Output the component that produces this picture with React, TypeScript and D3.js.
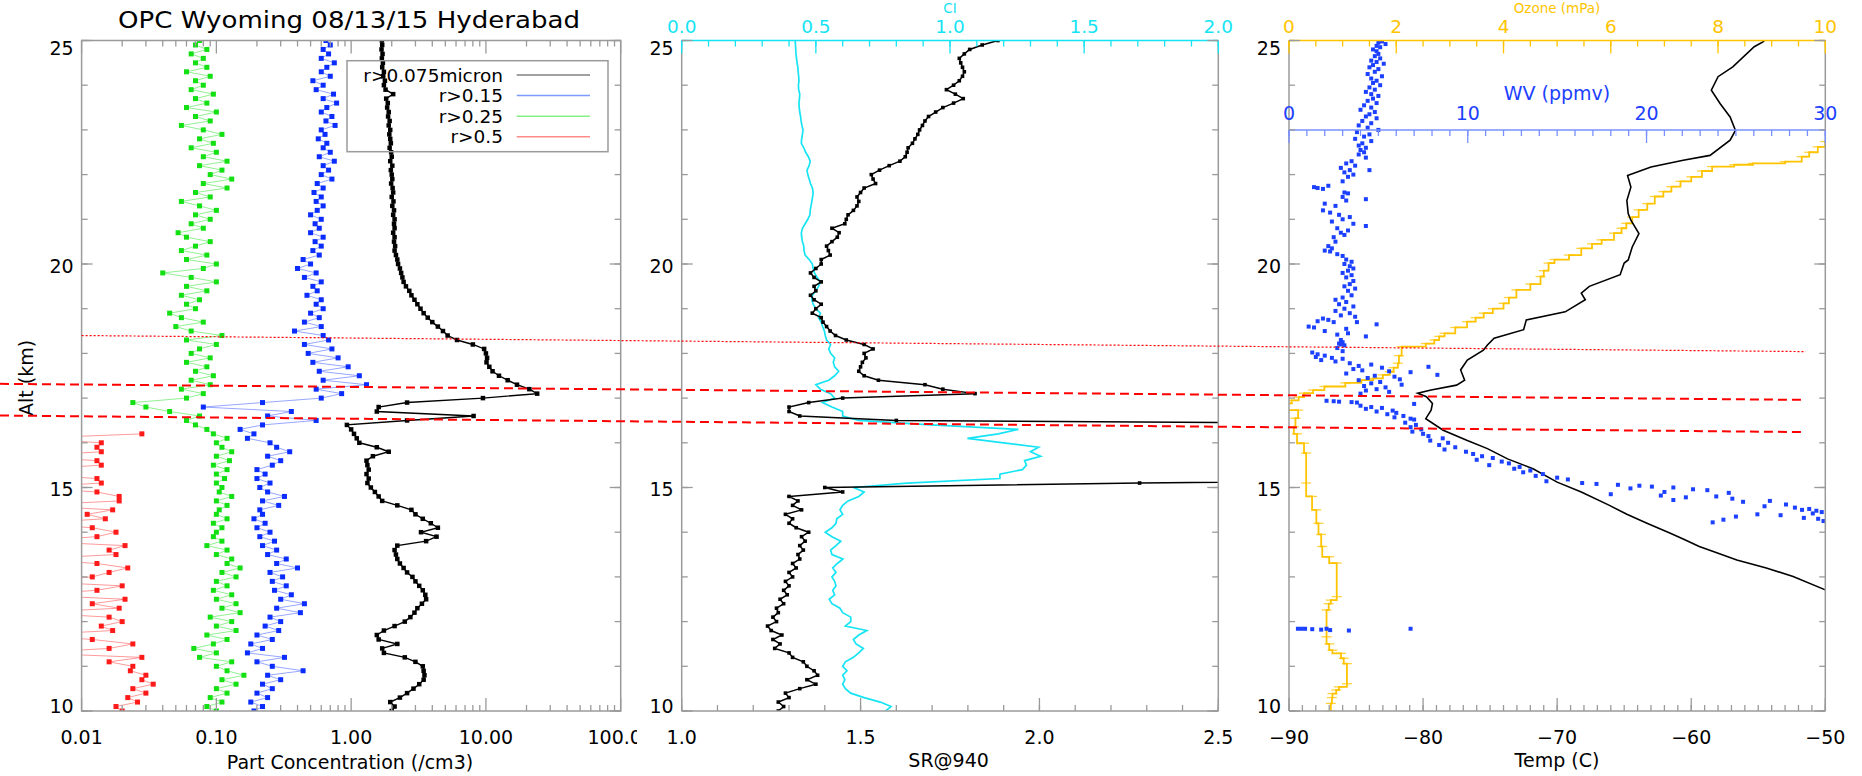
import * as d3 from "d3";

/**
 * OPC / backscatter / ozonesonde profile panels, Hyderabad 08/13/15.
 * Three side-by-side altitude profiles sharing one altitude scale.
 */

const FONT = "'DejaVu Sans', 'Liberation Sans', sans-serif";
const GRAY = "#9a9a9a";
const CYAN = "#16e4f4";
const GOLD = "#ffc400";
const WV_BLUE = "#1c40ff";

// altitude bins of the OPC and backscatter profiles (km)
const profileAlt = d3.range(151).map((i) => Math.round(100 + i) / 10);

// r>0.075 micron concentration (/cm3)
const conc075 = [
  2.0, 2.1, 1.95, 2.3, 2.6, 2.9, 3.2, 3.45, 3.5, 3.45,
  3.4, 3.0, 2.5, 1.75, 1.7, 2.2, 1.6, 1.55, 1.75, 2.1,
  2.5, 2.75, 2.95, 3.1, 3.35, 3.6, 3.55, 3.4, 3.2, 3.0,
  2.85, 2.6, 2.45, 2.3, 2.2, 2.15, 2.1, 2.2, 3.6, 4.3,
  3.3, 4.4, 3.9, 3.4, 3.0, 2.8, 2.2, 1.7, 1.6, 1.5,
  1.4, 1.32, 1.35, 1.3, 1.35, 1.32, 1.3, 1.45, 1.9, 1.55,
  1.15, 1.1, 1.05, 1.0, 0.93, 2.6, 8.1, 1.55, 1.6, 2.6,
  9.5, 24, 21, 17, 14.5, 12.5, 11.2, 10.6, 10.1, 10.2,
  10.0, 9.7, 8.0, 6.1, 5.2, 4.8, 4.4, 4.0, 3.7, 3.45,
  3.27, 3.1, 2.95, 2.8, 2.7, 2.55, 2.45, 2.4, 2.35, 2.3,
  2.23, 2.2, 2.15, 2.1, 2.12, 2.08, 2.1, 2.05, 2.1, 2.08,
  2.1, 2.05, 2.08, 2.02, 2.06, 2.0, 2.05, 2.03, 1.98, 2.02,
  2.0, 1.97, 2.02, 1.95, 2.0, 1.98, 1.93, 1.97, 1.95, 1.92,
  1.95, 1.9, 1.93, 1.88, 1.9, 1.85, 1.87, 1.82, 2.05, 1.8,
  1.75, 1.78, 1.73, 1.75, 1.7, 1.72, 1.69, 1.71, 1.68, 1.7,
  1.69,
];

// r>0.15
const conc015 = [
  0.19, 0.22, 0.18, 0.24, 0.2, 0.26, 0.22, 0.3, 0.24, 0.44,
  0.26, 0.2, 0.32, 0.17, 0.22, 0.18, 0.26, 0.2, 0.29, 0.23,
  0.3, 0.25, 0.42, 0.28, 0.45, 0.3, 0.36, 0.27, 0.33, 0.26,
  0.31, 0.25, 0.4, 0.28, 0.33, 0.24, 0.28, 0.22, 0.27, 0.21,
  0.25, 0.2, 0.23, 0.19, 0.22, 0.21, 0.29, 0.22, 0.32, 0.24,
  0.21, 0.25, 0.2, 0.23, 0.2, 0.26, 0.3, 0.24, 0.35, 0.28,
  0.25, 0.17, 0.19, 0.15, 0.22, 0.55, 0.24, 0.36, 0.08, 0.22,
  0.6, 0.85, 0.55, 1.3, 0.62, 1.15, 0.58, 0.95, 0.52, 0.8,
  0.48, 0.72, 0.45, 0.68, 0.62, 0.38, 0.6, 0.45, 0.58, 0.5,
  0.62, 0.55, 0.6, 0.47, 0.56, 0.52, 0.6, 0.45, 0.55, 0.4,
  0.5, 0.44, 0.58, 0.52, 0.6, 0.54, 0.62, 0.5, 0.58, 0.54,
  0.6, 0.5, 0.56, 0.62, 0.55, 0.6, 0.53, 0.62, 0.56, 0.72,
  0.6, 0.68, 0.62, 0.75, 0.58, 0.7, 0.62, 0.66, 0.57, 0.64,
  0.6, 0.76, 0.65, 0.72, 0.6, 0.66, 0.78, 0.62, 0.74, 0.55,
  0.62, 0.52, 0.7, 0.6, 0.66, 0.75, 0.6, 0.68, 0.62, 0.7,
  0.65,
];

// r>0.25
const conc025 = [
  0.1, 0.085, 0.11, 0.09, 0.12, 0.1, 0.14, 0.11, 0.16, 0.12,
  0.1, 0.13, 0.075, 0.1, 0.068, 0.095, 0.12, 0.085, 0.14, 0.1,
  0.13, 0.09, 0.15, 0.11, 0.14, 0.1, 0.13, 0.095, 0.12, 0.1,
  0.14, 0.11, 0.15, 0.12, 0.13, 0.1, 0.12, 0.085, 0.11, 0.095,
  0.1, 0.11, 0.095, 0.12, 0.1, 0.105, 0.12, 0.1, 0.13, 0.105,
  0.11, 0.1, 0.115, 0.1, 0.12, 0.095, 0.125, 0.1, 0.13, 0.11,
  0.1, 0.12, 0.095, 0.085, 0.07, 0.06, 0.075, 0.045, 0.03, 0.024,
  0.06, 0.08, 0.055, 0.09, 0.065, 0.095, 0.07, 0.085, 0.06, 0.09,
  0.065, 0.075, 0.1, 0.06, 0.11, 0.065, 0.05, 0.08, 0.055, 0.045,
  0.07, 0.06, 0.075, 0.055, 0.085, 0.06, 0.1, 0.065, 0.04, 0.08,
  0.1, 0.06, 0.085, 0.055, 0.07, 0.09, 0.06, 0.052, 0.08, 0.065,
  0.09, 0.07, 0.1, 0.075, 0.055, 0.09, 0.07, 0.12, 0.08, 0.13,
  0.09, 0.11, 0.075, 0.12, 0.08, 0.1, 0.065, 0.095, 0.075, 0.11,
  0.08, 0.055, 0.09, 0.07, 0.1, 0.06, 0.085, 0.07, 0.095, 0.065,
  0.08, 0.07, 0.09, 0.06, 0.085, 0.07, 0.08, 0.065, 0.085, 0.07,
  0.075,
];

// r>0.5, only measured up to 16.2 km (0.004 = zero counts, drawn at the axis)
const conc05 = [
  0.02, 0.018, 0.026, 0.022, 0.03, 0.024, 0.034, 0.028, 0.03, 0.023,
  0.024, 0.016, 0.028, 0.004, 0.016, 0.024, 0.012, 0.004, 0.017, 0.014,
  0.02, 0.016, 0.004, 0.019, 0.012, 0.021, 0.004, 0.013, 0.02, 0.004,
  0.012, 0.016, 0.022, 0.013, 0.004, 0.018, 0.016, 0.021, 0.004, 0.013,
  0.018, 0.012, 0.004, 0.015, 0.011, 0.017, 0.004, 0.019, 0.019, 0.013,
  0.004, 0.014, 0.013, 0.004, 0.004, 0.014, 0.013, 0.004, 0.014, 0.013,
  0.014, 0.004, 0.028,
];

// backscatter ratio at 940 nm (cloud between 15.1 and 16.5 km is off scale)
const sr940 = [
  1.27, 1.285, 1.27, 1.3, 1.29, 1.33, 1.375, 1.35, 1.38, 1.37,
  1.35, 1.34, 1.31, 1.3, 1.26, 1.275, 1.255, 1.28, 1.25, 1.24,
  1.265, 1.255, 1.27, 1.265, 1.285, 1.275, 1.295, 1.285, 1.3, 1.29,
  1.31, 1.3, 1.32, 1.31, 1.33, 1.325, 1.34, 1.33, 1.345, 1.335,
  1.355, 1.32, 1.3, 1.31, 1.29, 1.335, 1.31, 1.325, 1.3, 1.45,
  1.4, 2.28, 3.4, 4.1, 5.0, 6.2, 5.5, 4.8, 6.0, 5.2,
  4.4, 3.9, 4.6, 5.3, 3.6, 1.6, 1.33, 1.3, 1.3, 1.355,
  1.45, 1.82, 1.73, 1.68, 1.55, 1.51, 1.495, 1.5, 1.505, 1.515,
  1.51, 1.535, 1.51, 1.46, 1.43, 1.415, 1.405, 1.395, 1.39, 1.365,
  1.375, 1.39, 1.37, 1.36, 1.375, 1.37, 1.39, 1.37, 1.36, 1.375,
  1.39, 1.39, 1.415, 1.41, 1.405, 1.42, 1.435, 1.44, 1.42, 1.456,
  1.46, 1.465, 1.48, 1.49, 1.495, 1.49, 1.5, 1.51, 1.542, 1.535,
  1.53, 1.553, 1.58, 1.61, 1.625, 1.63, 1.633, 1.645, 1.652, 1.66,
  1.665, 1.673, 1.68, 1.69, 1.71, 1.73, 1.76, 1.787, 1.765, 1.74,
  1.76, 1.776, 1.785, 1.79, 1.785, 1.78, 1.776, 1.79, 1.805, 1.84,
  1.884,
];

// colour index
const ci = [
  0.76, 0.78, 0.74, 0.68, 0.63, 0.61, 0.6, 0.608, 0.6, 0.616,
  0.6, 0.61, 0.64, 0.66, 0.677, 0.65, 0.64, 0.66, 0.69, 0.61,
  0.63, 0.63, 0.6, 0.59, 0.56, 0.55, 0.57, 0.563, 0.575, 0.57,
  0.56, 0.575, 0.563, 0.58, 0.601, 0.56, 0.555, 0.575, 0.593, 0.56,
  0.535, 0.56, 0.575, 0.578, 0.6, 0.59, 0.6, 0.62, 0.66, 0.68,
  0.64, 0.84, 1.186, 1.186, 1.27, 1.285, 1.278, 1.338, 1.3, 1.33,
  1.2, 1.065, 1.18, 1.255, 0.928, 0.66, 0.6, 0.6, 0.56, 0.525,
  0.57, 0.555, 0.517, 0.5, 0.548, 0.57, 0.585, 0.57, 0.565, 0.57,
  0.555, 0.548, 0.555, 0.54, 0.535, 0.532, 0.525, 0.52, 0.51, 0.517,
  0.5, 0.49, 0.485, 0.487, 0.5, 0.51, 0.517, 0.505, 0.495, 0.49,
  0.487, 0.475, 0.46, 0.456, 0.455, 0.45, 0.447, 0.446, 0.45, 0.46,
  0.47, 0.478, 0.479, 0.482, 0.485, 0.488, 0.49, 0.487, 0.48, 0.475,
  0.47, 0.467, 0.475, 0.479, 0.472, 0.462, 0.455, 0.446, 0.447, 0.45,
  0.452, 0.448, 0.445, 0.443, 0.44, 0.438, 0.437, 0.439, 0.44, 0.436,
  0.435, 0.437, 0.436, 0.434, 0.433, 0.43, 0.428, 0.426, 0.425, 0.424,
  0.423,
];

// [alt km, temperature C]
const temp: [number, number][] = [
  [12.5, -48.4], [12.71, -50.0], [13.01, -52.4], [13.2, -54.4], [13.38, -56.6],
  [13.55, -58.2], [13.68, -59.4], [13.85, -60.6], [13.98, -61.6], [14.2, -63.3],
  [14.4, -64.8], [14.6, -66.1], [14.9, -68.2], [15.12, -70.0], [15.42, -71.8],
  [15.64, -73.7], [15.87, -75.2], [16.05, -76.7], [16.28, -78.5], [16.54, -79.8],
  [16.73, -79.4], [16.88, -79.3], [17.03, -79.75], [17.11, -80.4], [17.18, -79.4],
  [17.29, -77.5], [17.4, -76.9], [17.63, -77.2], [17.85, -76.7], [18.07, -75.5],
  [18.19, -75.2], [18.34, -74.7], [18.53, -72.5], [18.75, -72.3], [18.93, -69.4],
  [19.2, -67.9], [19.35, -68.2], [19.5, -67.6], [19.76, -65.3], [20.02, -65.0],
  [20.09, -64.7], [20.38, -64.4], [20.68, -63.9], [20.98, -64.5], [21.13, -64.7],
  [21.42, -64.8], [21.72, -64.5], [21.98, -64.75], [22.17, -63.0], [22.32, -60.6],
  [22.43, -58.6], [22.77, -57.1], [22.99, -56.7], [23.29, -57.1], [23.59, -57.85],
  [23.89, -58.5], [24.19, -58.0], [24.41, -56.9], [24.86, -55.3], [24.97, -54.65],
  [25.1, -54.2],
];

// [alt km, ozone partial pressure mPa]
const ozone: [number, number][] = [
  [10.0, 0.78], [10.17, 0.78], [10.3, 0.8], [10.39, 0.81], [10.47, 0.88],
  [10.54, 0.93], [10.61, 1.08], [11.06, 1.08], [11.18, 1.02], [11.29, 0.97],
  [11.36, 0.81], [11.5, 0.75], [11.66, 0.7], [12.26, 0.7], [12.4, 0.74],
  [12.48, 0.78], [12.56, 0.89], [13.31, 0.89], [13.45, 0.75], [13.68, 0.62],
  [13.95, 0.6], [14.2, 0.55], [14.5, 0.51], [14.8, 0.43], [15.1, 0.32],
  [15.77, 0.32], [15.99, 0.28], [16.2, 0.15], [16.36, 0.09], [16.55, 0.12],
  [16.73, 0.17], [16.88, -0.02], [16.95, 0.05], [17.02, 0.18], [17.11, 0.28],
  [17.18, 0.45], [17.26, 0.66], [17.34, 1.05], [17.4, 1.35], [17.44, 1.57],
  [17.52, 1.75], [17.59, 1.88], [17.68, 1.95], [17.78, 2.03], [17.95, 2.05],
  [18.15, 2.1], [18.22, 2.55], [18.3, 2.71], [18.38, 2.8], [18.45, 2.9],
  [18.58, 3.1], [18.71, 3.32], [18.8, 3.48], [18.9, 3.63], [19.0, 3.8],
  [19.12, 4.0], [19.25, 4.1], [19.42, 4.24], [19.55, 4.5], [19.72, 4.69],
  [19.85, 4.75], [20.02, 4.84], [20.1, 4.95], [20.2, 5.22], [20.35, 5.45],
  [20.45, 5.65], [20.54, 5.83], [20.69, 6.06], [20.8, 6.2], [20.91, 6.29],
  [21.05, 6.4], [21.21, 6.52], [21.35, 6.68], [21.51, 6.82], [21.62, 6.98],
  [21.73, 7.13], [21.85, 7.3], [21.95, 7.5], [22.08, 7.7], [22.18, 7.89],
  [22.22, 8.3], [22.25, 8.65], [22.29, 9.25], [22.4, 9.56], [22.5, 9.7],
  [22.62, 9.86], [22.74, 10.0], [22.85, 10.4],
];

// [alt km, water vapour ppmv]
const wv: [number, number][] = [
  [24.98, 5.2], [24.95, 5.0], [24.92, 5.4], [24.88, 4.9], [24.85, 5.1], [24.8, 4.7],
  [24.76, 4.9], [24.7, 5.0], [24.65, 4.8], [24.6, 5.1], [24.55, 4.6], [24.52, 4.9],
  [24.48, 5.3], [24.45, 4.7], [24.4, 4.5], [24.36, 5.0], [24.3, 4.8], [24.25, 4.4],
  [24.2, 5.2], [24.15, 4.6], [24.1, 4.9], [24.05, 4.7], [24.0, 5.1], [23.95, 4.5],
  [23.9, 4.8], [23.85, 4.3], [23.8, 4.6], [23.76, 5.0], [23.7, 4.7], [23.65, 4.4],
  [23.6, 4.9], [23.55, 4.2], [23.5, 4.6], [23.45, 4.0], [23.4, 4.8], [23.35, 4.5],
  [23.3, 4.3], [23.26, 4.9], [23.2, 4.1], [23.15, 4.6], [23.1, 3.9], [23.05, 4.4],
  [23.0, 5.0], [22.95, 3.8], [22.9, 4.5], [22.85, 4.2], [22.8, 3.7], [22.75, 4.6],
  [22.7, 4.1], [22.65, 3.9], [22.6, 4.3], [22.55, 4.0], [22.5, 4.2], [22.45, 3.9],
  [22.38, 4.3], [22.3, 3.5], [22.25, 3.2], [22.2, 3.7], [22.15, 2.9], [22.1, 3.4],
  [22.1, 4.5], [22.05, 3.1], [22.0, 3.6], [21.95, 3.3], [21.85, 3.0], [21.75, 2.2],
  [21.72, 1.4], [21.7, 1.6], [21.68, 1.9], [21.6, 3.1], [21.58, 3.3], [21.5, 3.0],
  [21.45, 4.3], [21.42, 3.2], [21.35, 2.0], [21.3, 2.6], [21.2, 1.9], [21.15, 2.3],
  [21.1, 2.8], [21.05, 3.4], [21.0, 3.0], [20.95, 2.4], [20.9, 3.6], [20.85, 4.3],
  [20.8, 2.7], [20.75, 3.3], [20.7, 2.9], [20.65, 3.1], [20.6, 2.5], [20.5, 2.6],
  [20.4, 2.2], [20.35, 2.4], [20.3, 2.0], [20.28, 2.3], [20.22, 2.7], [20.18, 3.0],
  [20.1, 3.2], [20.05, 3.5], [20.0, 3.1], [19.95, 3.4], [19.9, 3.6], [19.85, 3.3],
  [19.8, 3.0], [19.75, 3.5], [19.7, 3.2], [19.62, 3.6], [19.55, 3.4], [19.5, 3.1],
  [19.45, 3.7], [19.4, 3.3], [19.3, 3.5], [19.25, 3.0], [19.2, 2.6], [19.15, 3.2],
  [19.1, 2.8], [19.05, 3.6], [19.0, 3.1], [18.95, 2.6], [18.9, 3.4], [18.85, 2.9],
  [18.82, 3.7], [18.78, 1.9], [18.75, 2.2], [18.72, 1.6], [18.7, 2.5], [18.7, 3.8],
  [18.65, 4.9], [18.6, 1.1], [18.58, 1.4], [18.55, 3.2], [18.5, 2.0], [18.45, 3.3],
  [18.42, 2.7], [18.38, 4.3], [18.3, 2.9], [18.25, 3.0], [18.22, 2.8], [18.2, 2.9],
  [18.18, 3.1], [18.12, 2.7], [18.05, 3.0], [18.02, 1.3], [17.98, 1.6], [17.95, 2.0],
  [17.92, 1.5], [17.9, 2.4], [17.88, 3.0], [17.85, 1.8], [17.82, 2.6], [17.78, 3.4],
  [17.75, 4.6], [17.72, 3.9], [17.7, 7.8], [17.68, 5.2], [17.65, 3.6], [17.62, 4.1],
  [17.6, 5.6], [17.58, 6.8], [17.55, 3.2], [17.52, 8.3], [17.5, 4.8], [17.48, 5.9],
  [17.45, 4.4], [17.42, 6.2], [17.4, 3.9], [17.36, 5.1], [17.33, 4.6], [17.3, 6.3],
  [17.27, 4.2], [17.24, 5.4], [17.2, 4.9], [17.17, 4.3], [17.14, 5.6], [17.1, 4.0],
  [16.94, 2.1], [16.93, 2.5], [16.92, 2.8], [16.91, 3.5], [16.9, 3.8], [16.87, 7.0],
  [16.83, 4.0], [16.8, 4.6], [16.78, 5.2], [16.76, 4.3], [16.72, 5.8], [16.7, 4.9],
  [16.67, 6.0], [16.64, 5.5], [16.6, 6.4], [16.57, 5.9], [16.54, 6.8], [16.52, 7.0],
  [16.45, 6.5], [16.4, 7.1], [16.35, 6.8], [16.3, 7.4], [16.25, 6.9], [16.2, 7.5],
  [16.15, 7.8], [16.1, 8.6], [16.05, 7.9], [16.0, 8.9], [15.95, 8.4], [15.9, 9.3],
  [15.85, 8.7], [15.8, 9.9], [15.75, 10.3], [15.7, 10.8], [15.66, 11.4], [15.62, 10.5],
  [15.58, 11.9], [15.54, 12.3], [15.5, 11.2], [15.46, 12.9], [15.42, 12.6], [15.38, 13.5],
  [15.34, 13.1], [15.3, 14.2], [15.26, 13.8], [15.22, 15.0], [15.18, 15.6], [15.14, 14.4],
  [15.1, 16.4], [15.08, 17.2], [15.06, 18.4], [15.04, 19.6], [15.02, 20.3], [15.0, 21.5],
  [14.98, 19.1], [14.96, 22.6], [14.94, 23.4], [14.9, 21.0], [14.88, 24.6], [14.85, 18.0],
  [14.82, 20.8], [14.8, 23.9], [14.78, 22.2], [14.75, 24.8], [14.72, 21.5], [14.7, 26.9],
  [14.68, 25.4], [14.62, 27.8], [14.58, 26.6], [14.55, 28.3], [14.52, 29.1], [14.5, 28.7],
  [14.48, 29.5], [14.45, 29.8], [14.42, 29.3], [14.4, 26.2], [14.38, 27.5], [14.35, 25.0],
  [14.32, 28.8], [14.3, 29.6], [14.28, 24.3], [14.25, 29.9], [14.22, 23.7],
  [11.84, 0.5], [11.84, 0.7], [11.84, 0.9], [11.83, 1.3], [11.82, 1.8], [11.84, 2.1],
  [11.81, 2.3], [11.8, 3.35], [11.84, 6.8],
];

// layer marker lines: altitude at left end and at right end
const refLineLeft = [18.4, 17.32, 16.61];
const refLineRight = [18.04, 16.96, 16.24];

const altTicks = [10, 15, 20, 25];
const concTicks = [0.01, 0.1, 1, 10, 100];
const concLabels = ["0.01", "0.10", "1.00", "10.00", "100.00"];
const srTicks = [1.0, 1.5, 2.0, 2.5];
const srLabels = ["1.0", "1.5", "2.0", "2.5"];
const ciTicks = [0, 0.5, 1, 1.5, 2];
const ciLabels = ["0.0", "0.5", "1.0", "1.5", "2.0"];
const tempTicks = [-90, -80, -70, -60, -50];
const tempLabels = ["\u221290", "\u221280", "\u221270", "\u221260", "\u221250"];
const o3Ticks = [0, 2, 4, 6, 8, 10];
const wvTicks = [0, 10, 20, 30];

const legendNames = ["r>0.075micron", "r>0.15", "r>0.25", "r>0.5"];
const legendColors = ["#808080", "#7d9bff", "#86f086", "#ff8a8a"];

// layout
const W = 1862;
const H = 776;
const Y0 = 40.5;
const Y1 = 711;
const P1 = { x0: 81.6, x1: 620.7 };
const P2 = { x0: 681.7, x1: 1218.3 };
const P3 = { x0: 1289, x1: 1825.3 };
const WV_AXIS_Y = 130;
const TOP_LABEL_Y = 33;
const TOP_TITLE_Y = 12.5;

const y = d3.scaleLinear().domain([10, 25]).range([Y1, Y0]);
const xConc = d3.scaleLog().domain([0.01, 100]).range([P1.x0, P1.x1]);
const xSR = d3.scaleLinear().domain([1, 2.5]).range([P2.x0, P2.x1]);
const xCI = d3.scaleLinear().domain([0, 2]).range([P2.x0, P2.x1]);
const xT = d3.scaleLinear().domain([-90, -50]).range([P3.x0, P3.x1]);
const xO3 = d3.scaleLinear().domain([0, 10]).range([P3.x0, P3.x1]);
const xWV = d3.scaleLinear().domain([0, 30]).range([P3.x0, P3.x1]);

const concMinor = [0.01, 0.1, 1, 10].flatMap((d) => d3.range(2, 10).map((k) => d * k));
const altMinor = d3.range(10, 25.5, 1);

type Scale = (v: number) => number;

const xTicks = (scale: Scale, vals: number[], yy: number, len: number, color: string, key: string) =>
  vals.map((v, i) => (
    <line key={key + i} x1={scale(v)} x2={scale(v)} y1={yy} y2={yy + len} stroke={color} strokeWidth={1.3} />
  ));

const yTicks = (xx: number, len: number, key: string) => [
  ...altMinor.map((v, i) => (
    <line key={key + "m" + i} x1={xx} x2={xx + len * 0.55} y1={y(v)} y2={y(v)} stroke={GRAY} strokeWidth={1.3} />
  )),
  ...altTicks.map((v, i) => (
    <line key={key + "M" + i} x1={xx} x2={xx + len} y1={y(v)} y2={y(v)} stroke={GRAY} strokeWidth={1.3} />
  )),
];

const yLabels = (xx: number, key: string) =>
  altTicks.map((v, i) => (
    <text key={key + i} x={xx} y={y(v) + (v === 25 ? 14.5 : v === 10 ? 2 : 8.5)} textAnchor="end" fontSize={19} fill="#000">
      {v}
    </text>
  ));

const profileLine = (xs: Scale, vals: number[]) =>
  d3.line<number>()
    .x((d) => xs(d))
    .y((_, i) => y(profileAlt[i]))(vals) || "";

const squares = (xs: Scale, vals: number[], size: number, color: string, key: string) =>
  vals.map((v, i) => (
    <rect key={key + i} x={xs(v) - size / 2} y={y(profileAlt[i]) - size / 2} width={size} height={size} fill={color} />
  ));

const App = () => {
  const tempPath = d3.line<[number, number]>()
    .x((d) => xT(d[1]))
    .y((d) => y(d[0]))(temp) || "";

  const ozonePath = d3.line<[number, number]>()
    .curve(d3.curveStepAfter)
    .x((d) => xO3(d[1]))
    .y((d) => y(d[0]))(ozone) || "";

  const refX0 = [P1.x0, 0, 0];
  const refX1 = 1805.7;

  return (
    <svg
      width={W}
      height={H}
      style={{ position: "absolute", left: 0, top: 0, background: "#fff" }}
      fontFamily={FONT}
    >
      <defs>
        <clipPath id="clip1"><rect x={P1.x0} y={Y0} width={P1.x1 - P1.x0} height={Y1 - Y0} /></clipPath>
        <clipPath id="clip2"><rect x={P2.x0} y={Y0} width={P2.x1 - P2.x0} height={Y1 - Y0} /></clipPath>
        <clipPath id="clip3"><rect x={P3.x0} y={Y0} width={P3.x1 - P3.x0} height={Y1 - Y0} /></clipPath>
        <clipPath id="clipLab1"><rect x={0} y={0} width={637} height={H} /></clipPath>
      </defs>
      <rect width={W} height={H} fill="#fff" />

      {/* ---------- panel 1 : OPC concentrations ---------- */}
      <text x={349} y={28} textAnchor="middle" fontSize={23} textLength={462} lengthAdjust="spacingAndGlyphs">
        OPC Wyoming 08/13/15 Hyderabad
      </text>
      <g clipPath="url(#clip1)">
        <path d={profileLine(xConc, conc05)} fill="none" stroke="#ff3030" strokeWidth={0.9} opacity={0.55} />
        {conc05.map((v, i) => (
          <rect key={"r" + i} x={xConc(v) - 2.5} y={y(profileAlt[i]) - 2.5} width={5} height={5} fill="#ff1a1a" />
        ))}
        <path d={profileLine(xConc, conc025)} fill="none" stroke="#20e020" strokeWidth={0.9} opacity={0.55} />
        {squares(xConc, conc025, 5, "#12e012", "g")}
        <path d={profileLine(xConc, conc015)} fill="none" stroke="#2a4cff" strokeWidth={0.9} opacity={0.55} />
        {squares(xConc, conc015, 5, "#0a2cff", "b")}
        <path d={profileLine(xConc, conc075)} fill="none" stroke="#000" strokeWidth={1.4} />
        {squares(xConc, conc075, 4.5, "#000", "k")}
      </g>
      <rect x={P1.x0} y={Y0} width={P1.x1 - P1.x0} height={Y1 - Y0} fill="none" stroke={GRAY} strokeWidth={1.5} />
      {xTicks(xConc, concMinor, Y1, -6, GRAY, "c1")}
      {xTicks(xConc, concTicks, Y1, -13, GRAY, "c2")}
      {xTicks(xConc, concMinor, Y0, 6, GRAY, "c3")}
      {xTicks(xConc, concTicks, Y0, 13, GRAY, "c4")}
      {yTicks(P1.x0, 11, "y1l")}
      {yTicks(P1.x1, -11, "y1r")}
      {yLabels(P1.x0 - 8, "yl1")}
      <g clipPath="url(#clipLab1)">
        {concTicks.map((v, i) => (
          <text key={"cl" + i} x={xConc(v)} y={743.5} textAnchor="middle" fontSize={19}>{concLabels[i]}</text>
        ))}
      </g>
      <text x={350} y={769} textAnchor="middle" fontSize={19}>Part Concentration (/cm3)</text>
      <text transform="translate(33,378) rotate(-90)" textAnchor="middle" fontSize={19}>Alt (km)</text>

      {/* legend */}
      <rect x={347} y={60.7} width={261} height={91} fill="none" stroke={GRAY} strokeWidth={1.5} />
      {legendNames.map((name, i) => {
        const ly = 75 + i * 20.6;
        return (
          <g key={"lg" + i}>
            <text x={503} y={ly + 6.5} textAnchor="end" fontSize={18.5}>{name}</text>
            <line x1={516.7} x2={590} y1={ly} y2={ly} stroke={legendColors[i]} strokeWidth={1.5} />
          </g>
        );
      })}

      {/* ---------- panel 2 : backscatter ratio & colour index ---------- */}
      <g clipPath="url(#clip2)">
        <path d={profileLine(xCI, ci)} fill="none" stroke={CYAN} strokeWidth={1.7} />
        <path d={profileLine(xSR, sr940)} fill="none" stroke="#000" strokeWidth={1.5} />
        {squares(xSR, sr940, 3.6, "#000", "s")}
      </g>
      <line x1={P2.x0} x2={P2.x0} y1={Y0} y2={Y1} stroke={GRAY} strokeWidth={1.5} />
      <line x1={P2.x1} x2={P2.x1} y1={Y0} y2={Y1} stroke={GRAY} strokeWidth={1.5} />
      <line x1={P2.x0} x2={P2.x1} y1={Y1} y2={Y1} stroke={GRAY} strokeWidth={1.5} />
      <line x1={P2.x0} x2={P2.x1} y1={Y0} y2={Y0} stroke={CYAN} strokeWidth={1.5} />
      {xTicks(xSR, d3.range(1, 2.501, 0.1), Y1, -6, GRAY, "s1")}
      {xTicks(xSR, srTicks, Y1, -13, GRAY, "s2")}
      {xTicks(xCI, d3.range(0, 2.001, 0.1), Y0, 6, CYAN, "i1")}
      {xTicks(xCI, ciTicks, Y0, 13, CYAN, "i2")}
      {yTicks(P2.x0, 11, "y2l")}
      {yTicks(P2.x1, -11, "y2r")}
      {yLabels(P2.x0 - 8, "yl2")}
      {srTicks.map((v, i) => (
        <text key={"sl" + i} x={xSR(v)} y={743.5} textAnchor="middle" fontSize={19}>{srLabels[i]}</text>
      ))}
      {ciTicks.map((v, i) => (
        <text key={"il" + i} x={xCI(v)} y={TOP_LABEL_Y} textAnchor="middle" fontSize={18.5} fill={CYAN}>{ciLabels[i]}</text>
      ))}
      <text x={948.6} y={767} textAnchor="middle" fontSize={19}>SR@940</text>
      <text x={950} y={TOP_TITLE_Y} textAnchor="middle" fontSize={13.5} fill={CYAN}>CI</text>

      {/* ---------- panel 3 : temperature, ozone, water vapour ---------- */}
      <g clipPath="url(#clip3)">
        <path d={ozonePath} fill="none" stroke={GOLD} strokeWidth={1.8} />
        {ozone.map((d, i) => (
          <line key={"oe" + i} x1={xO3(d[1]) - 5} x2={xO3(d[1]) + 5} y1={y(d[0])} y2={y(d[0])} stroke={GOLD} strokeWidth={1.3} opacity={0.75} />
        ))}
        <path d={tempPath} fill="none" stroke="#000" strokeWidth={1.6} />
        {wv.map((d, i) => (
          <rect key={"wv" + i} x={xWV(d[1]) - 2} y={y(d[0]) - 2} width={4} height={4} fill={WV_BLUE} />
        ))}
      </g>
      <line x1={P3.x0} x2={P3.x0} y1={Y0} y2={Y1} stroke={GRAY} strokeWidth={1.5} />
      <line x1={P3.x1} x2={P3.x1} y1={Y0} y2={Y1} stroke={GRAY} strokeWidth={1.5} />
      <line x1={P3.x0} x2={P3.x1} y1={Y1} y2={Y1} stroke={GRAY} strokeWidth={1.5} />
      <line x1={P3.x0} x2={P3.x1} y1={Y0} y2={Y0} stroke={GOLD} strokeWidth={1.5} />
      {xTicks(xT, d3.range(-90, -49.9, 1), Y1, -6, GRAY, "t1")}
      {xTicks(xT, tempTicks, Y1, -13, GRAY, "t2")}
      {xTicks(xO3, d3.range(0, 10.01, 0.5), Y0, 6, GOLD, "o1")}
      {xTicks(xO3, o3Ticks, Y0, 13, GOLD, "o2")}
      <line x1={P3.x0} x2={P3.x1} y1={WV_AXIS_Y} y2={WV_AXIS_Y} stroke="#7890ff" strokeWidth={1.5} />
      {xTicks(xWV, d3.range(0, 30.01, 1), WV_AXIS_Y, 6, "#7890ff", "w1")}
      {xTicks(xWV, wvTicks, WV_AXIS_Y, 13, "#7890ff", "w2")}
      {yTicks(P3.x0, 11, "y3l")}
      {yTicks(P3.x1, -11, "y3r")}
      {yLabels(P3.x0 - 8, "yl3")}
      {tempTicks.map((v, i) => (
        <text key={"tl" + i} x={xT(v)} y={743.5} textAnchor="middle" fontSize={19}>{tempLabels[i]}</text>
      ))}
      {o3Ticks.map((v, i) => (
        <text key={"ol" + i} x={xO3(v)} y={TOP_LABEL_Y} textAnchor="middle" fontSize={18.5} fill={GOLD}>{v}</text>
      ))}
      {wvTicks.map((v, i) => (
        <text key={"wl" + i} x={xWV(v)} y={120} textAnchor="middle" fontSize={19} fill={WV_BLUE}>{v}</text>
      ))}
      <text x={1557} y={767} textAnchor="middle" fontSize={19}>Temp (C)</text>
      <text x={1557} y={TOP_TITLE_Y} textAnchor="middle" fontSize={13.5} fill={GOLD}>Ozone (mPa)</text>
      <text x={1557} y={100} textAnchor="middle" fontSize={19} fill={WV_BLUE}>WV (ppmv)</text>

      {/* ---------- tropopause layer markers across all panels ---------- */}
      {refLineLeft.map((alt, i) => (
        <line
          key={"ref" + i}
          x1={refX0[i]}
          x2={refX1}
          y1={y(alt)}
          y2={y(refLineRight[i])}
          stroke="#ff0000"
          strokeWidth={i === 0 ? 1.2 : 2}
          strokeDasharray={i === 0 ? "2,2" : "9,5"}
        />
      ))}
    </svg>
  );
};

export default App;
